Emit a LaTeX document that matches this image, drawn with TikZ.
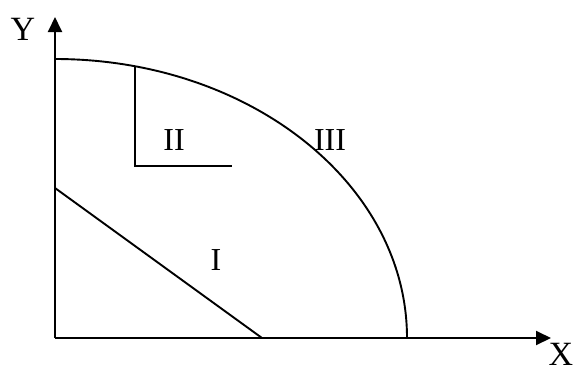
\documentclass[tikz,border=0pt]{standalone}
\usepackage{fontspec}
\setmainfont{Liberation Serif}
\usetikzlibrary{arrows.meta,calc}
\tikzset{
  axis/.style={line width=1.9pt, -{Triangle[length=15pt, width=14pt]}},
  curve/.style={line width=1.9pt},
  region/.style={font=\fontsize{32}{36}\selectfont, inner sep=0pt},
  axislabel/.style={font=\fontsize{34}{38}\selectfont, inner sep=0pt},
}
\begin{document}
\begin{tikzpicture}[x=1pt, y=-1pt]
\useasboundingbox (0,0) rectangle (577,370);
\coordinate (O) at (55,338);
\coordinate (ytip) at (55,17);
\coordinate (xtip) at (551,338);
% axes
\draw[axis] (O) -- (ytip);
\draw[axis] (O) -- (xtip);
\node[axislabel] (ylab) at (23,29) {Y};
\node[axislabel] (xlab) at (561,354) {X};
% boundary curve
\draw[curve] (55,59) coordinate (ctop) arc[start angle=-90, end angle=0, x radius=352, y radius=279] coordinate (cend);
% region I
\coordinate (la) at (55,188);
\coordinate (lb) at (262,338);
\draw[curve] (la) -- (lb);
% region II
\coordinate (ba) at (135,66.3);
\coordinate (bb) at (135,166);
\coordinate (bc) at (232,166);
\draw[curve] (ba) -- (bb) -- (bc);
\node[region] (one) at (216,260) {I};
\node[region] (two) at (174,140) {II};
\node[region] (three) at (330,140) {III};
\end{tikzpicture}
\end{document}
